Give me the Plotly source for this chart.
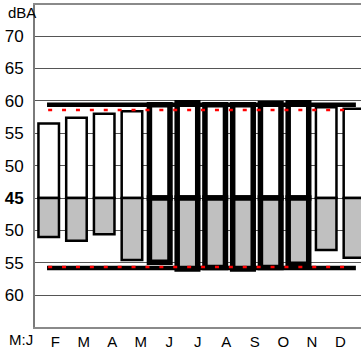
import plotly.graph_objects as go

# ==================================================
# DATA
# ==================================================
months = ["J", "F", "M", "A", "M", "J", "J", "A", "S", "O", "N", "D"]
day_level = [56.5, 57.4, 58.0, 58.4, 59.4, 59.7, 59.4, 59.4, 59.6, 59.7, 59.0, 58.8]
night_level = [51.0, 51.6, 50.6, 54.55, 54.9, 55.95, 55.7, 55.95, 55.7, 55.2, 53.0, 54.2]
heavy = [False, False, False, False, True, True, True, True, True, True, False, False]

day_limit = 59.4
day_ref = 58.6
night_limit = 55.8
night_ref = 55.65

upper_ticks = [70, 65, 60, 55, 50, 45]
lower_ticks = [50, 55, 60]
month_ticks = ["F", "M", "A", "M", "J", "J", "A", "S", "O", "N", "D"]
first_tick = "M:J"

BASE = 45
FONT = "Liberation Sans, Arial, sans-serif"


def fold(v):
    # lower half of the chart is mirrored around the base level
    return 2 * BASE - v


x = list(range(len(months)))
n = len(months)

fig = go.Figure()

# -------------------
# Bars (day above, night below)
# -------------------
edge_w = [5.5 if h else 2.5 for h in heavy]

fig.add_trace(go.Bar(
    x=x, y=[v - BASE for v in day_level], base=BASE, width=0.74,
    marker=dict(color="white", line=dict(color="black", width=edge_w)),
    showlegend=False, hoverinfo="skip"
))
fig.add_trace(go.Bar(
    x=x, y=[fold(v) - BASE for v in night_level], base=BASE, width=0.74,
    marker=dict(color="#c0c0c0", line=dict(color="black", width=edge_w)),
    showlegend=False, hoverinfo="skip"
))

# -------------------
# Limit lines
# -------------------
fig.add_trace(go.Scatter(
    x=[-0.06, n - 1 + 0.07], y=[day_limit] * 2, mode="lines",
    line=dict(color="black", width=4.5), showlegend=False, hoverinfo="skip"
))
fig.add_trace(go.Scatter(
    x=[-0.06, n - 1 + 0.07], y=[fold(night_limit)] * 2, mode="lines",
    line=dict(color="black", width=4.5), showlegend=False, hoverinfo="skip"
))
fig.add_trace(go.Scatter(
    x=[-0.02, n - 1 - 0.29], y=[day_ref] * 2, mode="lines",
    line=dict(color="#ff0000", width=2.5, dash="4px,9.9px"),
    showlegend=False, hoverinfo="skip"
))
fig.add_trace(go.Scatter(
    x=[-0.02, n - 1 - 0.29], y=[fold(night_ref)] * 2, mode="lines",
    line=dict(color="#ff0000", width=2.5, dash="4px,9.9px"),
    showlegend=False, hoverinfo="skip"
))

# -------------------
# Layout
# -------------------
ytickvals = upper_ticks + [fold(v) for v in lower_ticks]
yticktext = [("<b>%d</b>" % v if v == BASE else str(v)) for v in upper_ticks] + [str(v) for v in lower_ticks]
xtickvals = [(55.3 + 28.5 * k - 48.7) / 27.75 for k in range(len(month_ticks))]

fig.update_layout(
    width=361, height=351,
    margin=dict(l=35, r=0, t=5, b=24),
    barmode="overlay",
    plot_bgcolor="white", paper_bgcolor="white",
    font=dict(family=FONT, color="black"),
    xaxis=dict(
        range=[-0.494, 11.254], showgrid=False, zeroline=False, automargin=False,
        tickvals=xtickvals, ticktext=month_ticks,
        tickfont=dict(size=15),
        ticks="", ticklabelstandoff=0,
        showline=True, linecolor="#8a8a8a", linewidth=2, mirror=True
    ),
    yaxis=dict(
        range=[25.1, 74.8], showgrid=True, gridcolor="#555555", gridwidth=1,
        zeroline=False, automargin=False, tickvals=ytickvals, ticktext=yticktext,
        tickfont=dict(size=17),
        ticks="outside", ticklen=6, tickcolor="rgba(0,0,0,0)",
        showline=True, linecolor="#7a7a7a", linewidth=2
    ),
    annotations=[
        dict(text="dBA", xref="paper", yref="y", x=0.008, y=73.7,
             xanchor="right", yanchor="middle", showarrow=False,
             font=dict(size=15, family=FONT, color="black")),
        dict(text=first_tick, xref="paper", yref="paper", x=-0.043, y=-0.005,
             xanchor="center", yanchor="top", showarrow=False,
             font=dict(size=15, family=FONT, color="black")),
    ],
)

fig.write_html("out.html", config={"displayModeBar": False},
               post_script="document.body.style.margin='0';")
